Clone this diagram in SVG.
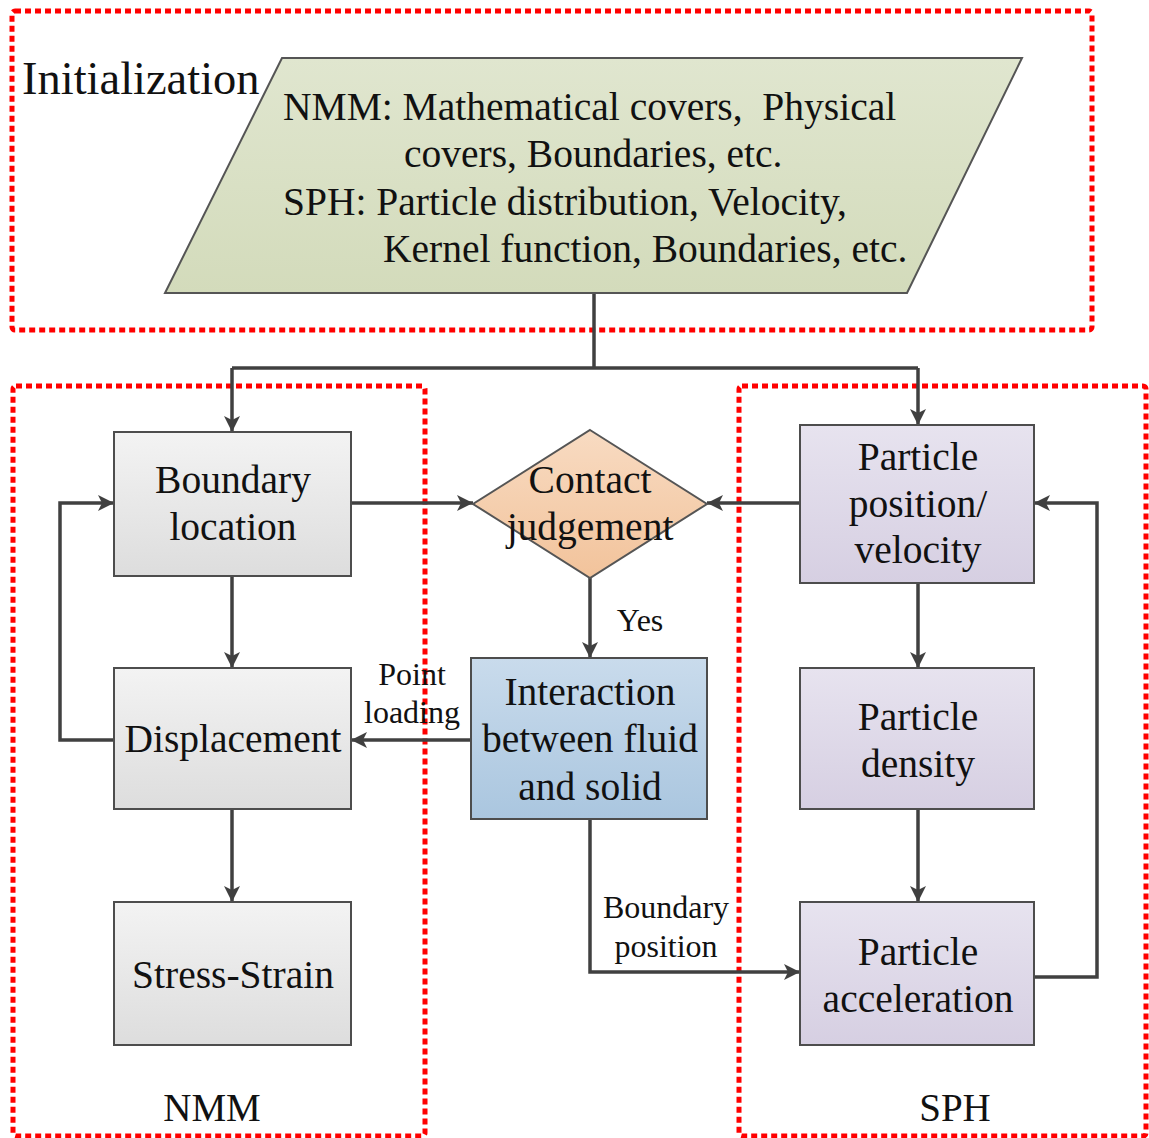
<svg xmlns="http://www.w3.org/2000/svg" width="1149" height="1138" viewBox="0 0 1149 1138">
<style>
.t{font-family:"Liberation Serif","Times New Roman",serif;fill:#111;text-anchor:middle}
.big{font-size:39.5px}
.lab{font-size:32px}
.red{fill:none;stroke:#ff0000;stroke-width:5;stroke-dasharray:6 4;stroke-linecap:butt;stroke-linejoin:round}
.box{stroke:#4d4d4d;stroke-width:2}
.c{fill:none;stroke:#404040;stroke-width:3.5}
</style>
<defs>
<linearGradient id="gGray" x1="0" y1="0" x2="0" y2="1"><stop offset="0" stop-color="#f3f3f3"/><stop offset="1" stop-color="#dddddd"/></linearGradient>
<linearGradient id="gPur" x1="0" y1="0" x2="0" y2="1"><stop offset="0" stop-color="#e7e3ef"/><stop offset="1" stop-color="#d6cfe2"/></linearGradient>
<linearGradient id="gBlue" x1="0" y1="0" x2="0" y2="1"><stop offset="0" stop-color="#c9dbec"/><stop offset="1" stop-color="#aac6df"/></linearGradient>
<linearGradient id="gOr" x1="0" y1="0" x2="0" y2="1"><stop offset="0" stop-color="#f8dbc2"/><stop offset="1" stop-color="#f2c39b"/></linearGradient>
<linearGradient id="gGreen" x1="0" y1="0" x2="0" y2="1"><stop offset="0" stop-color="#e0e6cf"/><stop offset="1" stop-color="#d3dbbb"/></linearGradient>
<marker id="ah" markerUnits="userSpaceOnUse" markerWidth="18" markerHeight="18" viewBox="0 0 18 18" refX="16" refY="9" orient="auto"><path d="M0,1 L16,9 L0,17 L4,9 Z" fill="#404040"/></marker>
</defs>

<g id="regions">
<rect class="red" x="12" y="11" width="1080" height="319" rx="3"/>
<rect class="red" x="13" y="386" width="412" height="750" rx="3"/>
<rect class="red" x="739" y="386" width="407" height="750" rx="3"/>
<text class="t" x="22" y="94" style="font-size:46.5px;text-anchor:start">Initialization</text>
<text class="t" x="212" y="1121" style="font-size:39px">NMM</text>
<text class="t" x="955" y="1121" style="font-size:39px">SPH</text>
</g>

<g id="connectors">
<path class="c" d="M594,293 V368"/>
<path class="c" d="M232,368 H918"/>
<path class="c" d="M232,368 V432" marker-end="url(#ah)"/>
<path class="c" d="M918,368 V425" marker-end="url(#ah)"/>
<path class="c" d="M351,503 H473" marker-end="url(#ah)"/>
<path class="c" d="M800,503 H707" marker-end="url(#ah)"/>
<path class="c" d="M590,578 V658" marker-end="url(#ah)"/>
<path class="c" d="M232,576 V668" marker-end="url(#ah)"/>
<path class="c" d="M114,740 H60 V503 H114" marker-end="url(#ah)"/>
<path class="c" d="M471,740 H351" marker-end="url(#ah)"/>
<path class="c" d="M232,809 V902" marker-end="url(#ah)"/>
<path class="c" d="M918,583 V668" marker-end="url(#ah)"/>
<path class="c" d="M918,809 V902" marker-end="url(#ah)"/>
<path class="c" d="M1034,977 H1097 V503 H1034" marker-end="url(#ah)"/>
<path class="c" d="M590,819 V972 H800" marker-end="url(#ah)"/>
<text class="t lab" x="640" y="631">Yes</text>
<text class="t lab" x="412" y="685">Point</text>
<text class="t lab" x="412" y="723">loading</text>
<text class="t lab" x="666" y="918">Boundary</text>
<text class="t lab" x="666" y="957">position</text>
</g>

<g id="init">
<polygon points="282,58 1022,58 907,293 165,293" fill="url(#gGreen)" stroke="#555" stroke-width="2"/>
<text class="t big" x="283" y="120" style="text-anchor:start;white-space:pre">NMM: Mathematical covers,  Physical</text>
<text class="t big" x="404" y="167" style="text-anchor:start">covers, Boundaries, etc.</text>
<text class="t big" x="283" y="215" style="text-anchor:start">SPH: Particle distribution, Velocity,</text>
<text class="t big" x="383" y="262" style="text-anchor:start">Kernel function, Boundaries, etc.</text>
</g>

<g id="boundary-location">
<rect class="box" x="114" y="432" width="237" height="144" fill="url(#gGray)"/>
<text class="t big" x="233" y="493">Boundary</text>
<text class="t big" x="233" y="540">location</text>
</g>

<g id="displacement">
<rect class="box" x="114" y="668" width="237" height="141" fill="url(#gGray)"/>
<text class="t big" x="233" y="752">Displacement</text>
</g>

<g id="stress-strain">
<rect class="box" x="114" y="902" width="237" height="143" fill="url(#gGray)"/>
<text class="t big" x="233" y="988">Stress-Strain</text>
</g>

<g id="contact">
<polygon points="590,430 707,504 590,578 473,504" fill="url(#gOr)" stroke="#555" stroke-width="2"/>
<text class="t big" x="590" y="493">Contact</text>
<text class="t big" x="590" y="540">judgement</text>
</g>

<g id="interaction">
<rect class="box" x="471" y="658" width="236" height="161" fill="url(#gBlue)"/>
<text class="t big" x="590" y="705">Interaction</text>
<text class="t big" x="590" y="752">between fluid</text>
<text class="t big" x="590" y="800">and solid</text>
</g>

<g id="particle-position">
<rect class="box" x="800" y="425" width="234" height="158" fill="url(#gPur)"/>
<text class="t big" x="918" y="470">Particle</text>
<text class="t big" x="918" y="517">position/</text>
<text class="t big" x="918" y="563">velocity</text>
</g>

<g id="particle-density">
<rect class="box" x="800" y="668" width="234" height="141" fill="url(#gPur)"/>
<text class="t big" x="918" y="730">Particle</text>
<text class="t big" x="918" y="777">density</text>
</g>

<g id="particle-acceleration">
<rect class="box" x="800" y="902" width="234" height="143" fill="url(#gPur)"/>
<text class="t big" x="918" y="965">Particle</text>
<text class="t big" x="918" y="1012">acceleration</text>
</g>
</svg>
